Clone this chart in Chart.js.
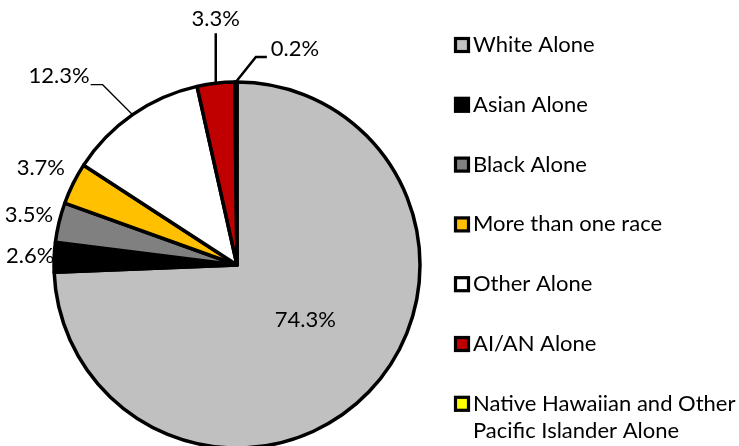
<!DOCTYPE html>
<html>
<head>
<meta charset="utf-8">
<script src="https://cdn.jsdelivr.net/npm/chart.js@4/dist/chart.umd.min.js"></script>
<style>
  html, body { margin: 0; padding: 0; background: #fff; overflow: hidden; }
  canvas { display: block; }
</style>
</head>
<body>
<canvas id="c" width="739" height="446"></canvas>
<script>
const categories = ['White Alone', 'Asian Alone', 'Black Alone', 'More than one race', 'Other Alone', 'AI/AN Alone', 'Native Hawaiian and Other Pacific Islander Alone'];
const shares = [74.3, 2.6, 3.5, 3.7, 12.3, 3.3, 0.2];
const sliceColors = ['#c0c0c0', '#000000', '#808080', '#ffc000', '#ffffff', '#c00000', '#ffff00'];

const FONT = '22px Lato, "Open Sans", sans-serif';

// percent labels, placed from each arc's own angles
const sliceLabels = {
  id: 'sliceLabels',
  afterDatasetsDraw(chart, args, opts) {
    const ctx = chart.ctx;
    const arcs = chart.getDatasetMeta(0).data;
    ctx.save();
    ctx.font = FONT;
    ctx.fillStyle = '#000';
    ctx.strokeStyle = '#000';
    arcs.forEach(function(arc, i) {
      const p = arc.getProps(['x', 'y', 'startAngle', 'endAngle', 'outerRadius'], true);
      const mid = (p.startAngle + p.endAngle) / 2;
      const cos = Math.cos(mid), sin = Math.sin(mid);
      const text = shares[i].toFixed(1) + '%';
      const pl = opts.place[i];
      if(pl.inside) {
        ctx.textAlign = 'center'; ctx.textBaseline = 'middle';
        ctx.fillText(text, p.x + p.outerRadius * pl.inside * cos + 5, p.y + p.outerRadius * pl.inside * sin - 6);
      } else if(pl.out) {
        ctx.textAlign = 'center'; ctx.textBaseline = 'middle';
        ctx.fillText(text, p.x + (p.outerRadius + pl.out) * cos, p.y + (p.outerRadius + pl.out) * sin);
      } else {
        const ax = p.x + p.outerRadius * cos, ay = p.y + p.outerRadius * sin;
        const ex = ax + pl.leader[0], ey = ay + pl.leader[1];
        const hx = ex + pl.leader[2];
        ctx.lineWidth = pl.lw;
        ctx.beginPath();
        ctx.moveTo(ax, ay);
        ctx.lineTo(ex, ey);
        ctx.lineTo(hx, ey);
        ctx.stroke();
        ctx.textAlign = pl.align; ctx.textBaseline = 'middle';
        ctx.fillText(text, hx + pl.text[0], ey + pl.text[1]);
      }
    });
    ctx.restore();
  }
};

// legend on the right, boxes drawn like the reference
const sideLegend = {
  id: 'sideLegend',
  afterDraw(chart, args, opts) {
    const ctx = chart.ctx;
    ctx.save();
    ctx.font = FONT;
    ctx.textBaseline = 'middle';
    ctx.textAlign = 'left';
    chart.data.labels.forEach(function(label, i) {
      const cy = opts.top + i * opts.step;
      ctx.fillStyle = sliceColors[i];
      ctx.fillRect(opts.x + 1.5, cy - 6.5, 13, 13);
      ctx.lineWidth = 3.2;
      ctx.strokeStyle = '#000';
      ctx.strokeRect(opts.x + 1.5, cy - 6.5, 13, 13);
      ctx.fillStyle = '#000';
      // wrap long names
      const words = label.split(' ');
      let line = '', lines = [];
      words.forEach(function(w) {
        const t = line ? line + ' ' + w : w;
        if(ctx.measureText(t).width > opts.maxWidth && line) { lines.push(line); line = w; }
        else line = t;
      });
      lines.push(line);
      lines.forEach(function(l, k) {
        ctx.fillText(l, opts.x + 19, cy + k * opts.lineHeight);
      });
    });
    ctx.restore();
  }
};

new Chart(document.getElementById('c'), {
  type: 'pie',
  data: {
    labels: categories,
    datasets: [{
      data: shares,
      backgroundColor: sliceColors,
      borderColor: '#000',
      borderWidth: 3.5,
      borderJoinStyle: 'round'
    }]
  },
  options: {
    responsive: false,
    animation: false,
    radius: 183,
    layout: { padding: { left: 0, right: 265, top: 84, bottom: 0 } },
    plugins: {
      legend: { display: false },
      tooltip: { enabled: false },
      sliceLabels: {
        place: [
          { inside: 0.48 },
          { out: 24 },
          { out: 31 },
          { out: 36 },
          { leader: [-30, -30, -12], text: [-1, -9], align: 'right', lw: 1.3 },
          { leader: [0, -50, 0], text: [0, -14], align: 'center', lw: 2.5 },
          { leader: [20, -25, 11], text: [4, -8], align: 'left', lw: 2.5 }
        ]
      },
      sideLegend: { x: 454, top: 45, step: 59.8, lineHeight: 27, maxWidth: 264 }
    }
  },
  plugins: [sliceLabels, sideLegend]
});
</script>
</body>
</html>
